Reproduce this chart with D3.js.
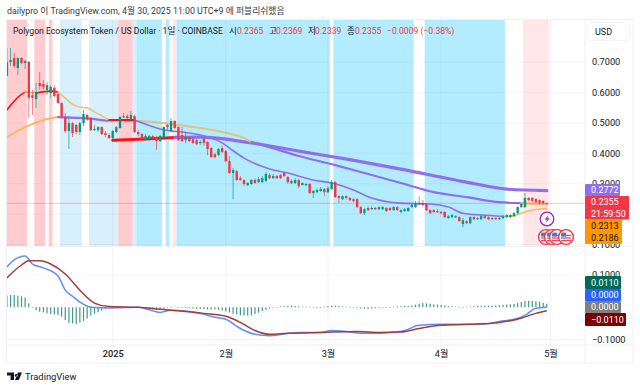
<!DOCTYPE html>
<html>
<head>
<meta charset="utf-8">
<script src="https://cdn.jsdelivr.net/npm/d3@7"></script>
<style>
  html, body { margin: 0; padding: 0; background: #fff; }
  svg { display: block; }
  text { font-family: Roboto, "Noto Sans CJK KR", sans-serif; }
</style>
</head>
<body>
<svg id="chart" width="640" height="389"></svg>
<script>
// Daily candles, one per day from the first date on
const firstDay = new Date(Date.UTC(2024, 11, 3));

const opens = [
  .654,.700,.713,.680,.713,.697,.700,.591,.578,.631,
  .628,.608,.598,.615,.595,.565,.519,.473,.499,.493,
  .470,.499,.526,.516,.476,.476,.486,.466,.460,.450,
  .470,.483,.519,.522,.512,.522,.470,.463,.447,.447,
  .457,.453,.440,.453,.493,.473,.506,.486,.460,.443,
  .453,.447,.443,.434,.447,.437,.417,.397,.394,.417,
  .407,.374,.335,.341,.318,.312,.295,.299,.312,.305,
  .305,.309,.328,.318,.325,.328,.335,.322,.302,.302,
  .312,.295,.295,.299,.269,.272,.276,.282,.272,.282,
  .305,.259,.249,.259,.253,.249,.249,.223,.203,.220,
  .216,.220,.216,.216,.220,.220,.213,.223,.207,.210,
  .210,.223,.223,.233,.236,.233,.213,.213,.210,.207,
  .207,.187,.190,.190,.190,.167,.177,.170,.190,.183,
  .183,.193,.190,.187,.187,.183,.187,.190,.190,.193,
  .203,.223,.223,.253,.253,.249,.246,.243,.2365
];
const highs = [
  .746,.746,.730,.716,.716,.707,.703,.608,.631,.667,
  .641,.634,.624,.624,.598,.568,.532,.522,.503,.496,
  .503,.542,.529,.519,.493,.489,.489,.473,.466,.476,
  .489,.522,.532,.529,.539,.526,.476,.466,.463,.460,
  .460,.457,.460,.489,.496,.516,.509,.489,.486,.470,
  .457,.450,.447,.443,.453,.440,.420,.401,.417,.424,
  .411,.391,.351,.345,.325,.315,.305,.315,.318,.322,
  .325,.338,.335,.332,.328,.332,.338,.325,.315,.318,
  .315,.305,.302,.302,.279,.285,.289,.285,.292,.312,
  .309,.262,.262,.262,.256,.253,.253,.226,.220,.226,
  .226,.223,.226,.226,.223,.223,.226,.226,.216,.220,
  .223,.233,.243,.259,.246,.236,.216,.216,.216,.210,
  .210,.197,.200,.197,.193,.187,.180,.193,.193,.190,
  .197,.197,.193,.190,.190,.190,.197,.200,.200,.207,
  .226,.236,.269,.256,.256,.253,.249,.246,.2369
];
const lows = [
  .654,.687,.680,.657,.693,.677,.516,.526,.549,.608,
  .608,.591,.582,.585,.562,.516,.466,.414,.453,.463,
  .460,.489,.506,.473,.473,.470,.460,.453,.447,.447,
  .466,.480,.516,.512,.509,.466,.457,.440,.443,.443,
  .443,.411,.437,.450,.476,.470,.480,.440,.437,.434,
  .437,.430,.427,.427,.424,.394,.384,.384,.391,.401,
  .371,.332,.249,.309,.309,.292,.292,.295,.299,.302,
  .302,.305,.315,.315,.315,.315,.322,.299,.299,.299,
  .285,.295,.292,.266,.253,.269,.272,.259,.269,.279,
  .253,.236,.246,.249,.243,.239,.220,.200,.197,.210,
  .213,.213,.213,.213,.207,.210,.210,.210,.203,.207,
  .207,.220,.220,.230,.226,.210,.200,.203,.203,.200,
  .187,.183,.187,.187,.174,.157,.167,.167,.180,.180,
  .180,.183,.180,.180,.180,.180,.183,.187,.187,.190,
  .200,.220,.220,.243,.239,.236,.233,.233,.2339
];
const closes = [
  .700,.707,.687,.713,.697,.703,.582,.582,.601,.621,
  .618,.624,.618,.588,.565,.519,.473,.499,.466,.470,
  .499,.529,.512,.476,.480,.486,.463,.460,.450,.473,
  .486,.519,.522,.516,.526,.470,.463,.447,.457,.457,
  .450,.440,.457,.486,.486,.506,.483,.443,.440,.453,
  .440,.434,.430,.437,.434,.414,.387,.387,.414,.404,
  .374,.335,.345,.312,.312,.299,.302,.312,.302,.315,
  .318,.332,.318,.325,.318,.318,.325,.305,.309,.312,
  .292,.302,.299,.269,.276,.279,.282,.272,.285,.305,
  .256,.253,.259,.253,.246,.243,.223,.203,.216,.213,
  .220,.216,.223,.223,.210,.213,.223,.213,.213,.216,
  .220,.230,.236,.236,.230,.213,.203,.207,.207,.203,
  .190,.193,.197,.193,.177,.180,.170,.190,.183,.187,
  .193,.187,.183,.183,.183,.187,.193,.197,.197,.203,
  .223,.233,.253,.246,.243,.239,.236,.236,.2355
];

// Moving averages, read at the day offsets listed beside them
const fastDays = [0,3,5,8,12,14,16,18,20,22,24,28,35,42,45,48,53,59,61,65,69,72,77,84,89,95,100,108,116,121,125,130,136,138,141,144,148];
const fastValues = [.542,.584,.601,.598,.604,.601,.581,.561,.552,.549,.536,.509,.509,.480,.473,.470,.460,.434,.417,.384,.361,.348,.335,.312,.302,.279,.253,.236,.233,.223,.203,.197,.193,.193,.203,.213,.2186];
const midDays = [0,5,10,14,20,28,35,47,53,59,65,67,72,80,90,98,108,117,126,135,141,148];
const midValues = [.453,.486,.509,.519,.516,.506,.506,.493,.483,.470,.450,.437,.420,.391,.361,.335,.302,.272,.256,.239,.236,.2313];
const slowDays = [29,38,46,53,67,80,94,108,126,137,148];
const slowValues = [.443,.447,.452,.453,.434,.407,.379,.348,.305,.282,.2772];

// Which colour each stretch of an average takes: [from, to, colour, width]
const fastColors = [[0,5,"#f4141c",1.6],[5,8,"#f7b35a",1.6],[8,14,"#f4141c",1.8],[14,28,"#f2bd70",1.5],[28,35,"#f4141c",2],[35,136,"#8f6fee",1.6],[136,148,"#f9bb66",1.6]];
const midColors = [[0,14,"#f9b766",2],[14,28,"#8f6fee",2.2],[28,67,"#e4c27c",2],[67,141,"#8f6fee",2.2],[141,148,"#f9bb66",2.4]];
const slowColors = [[29,46,"#f4141c",3],[46,148,"#8f6fee",3.2]];

// MACD pane
const macdDays = [0,2,5,7,10,14,16,18,20,23,28,36,39,42,45,49,54,57,60,64,68,72,76,80,86,89,93,97,101,105,109,113,119,124,130,135,139,142,145,148];
const macdValues = [.125,.147,.159,.134,.122,.097,.053,.034,.016,0,-.002,0,-.008,-.016,-.009,-.012,-.022,-.031,-.037,-.066,-.084,-.088,-.083,-.078,-.078,-.072,-.075,-.081,-.081,-.078,-.072,-.056,-.053,-.053,-.053,-.044,-.037,-.025,-.003,0];
const signalDays = [0,4,6,9,12,16,20,24,28,36,42,49,54,60,64,68,72,77,86,96,102,108,113,119,127,135,140,145,148];
const signalValues = [.091,.131,.144,.144,.134,.103,.053,.013,.002,0,-.006,-.013,-.019,-.028,-.047,-.072,-.084,-.081,-.078,-.075,-.078,-.077,-.066,-.056,-.053,-.047,-.037,-.019,-.011];
const histogram = [
  .036,.038,.038,.036,.034,.030,.012,.001,-.009,-.014,
  -.016,-.019,-.021,-.022,-.024,-.029,-.040,-.049,-.050,-.052,
  -.047,-.042,-.035,-.026,-.020,-.016,-.011,-.006,-.003,-.001,
  .000,.001,.001,.000,.000,.000,-.001,-.002,-.004,-.006,
  -.007,-.008,-.007,-.004,-.001,.002,.002,.001,-.001,-.002,
  -.003,-.004,-.005,-.006,-.006,-.007,-.007,-.007,-.008,-.010,
  -.013,-.016,-.020,-.022,-.025,-.026,-.026,-.025,-.021,-.017,
  -.012,-.008,-.004,-.002,.001,.002,.003,.004,.005,.004,
  .003,.002,.002,.002,.001,.001,.001,.002,.004,.005,
  .005,.004,.003,.002,.001,.000,-.001,-.004,-.005,-.005,
  -.004,-.003,-.002,-.001,.000,.001,.002,.003,.003,.004,
  .004,.006,.008,.011,.013,.012,.011,.009,.008,.007,
  .005,.004,.003,.002,.001,.001,.002,.002,.003,.004,
  .004,.005,.005,.005,.006,.006,.007,.008,.009,.010,
  .013,.016,.019,.020,.020,.019,.017,.014,.011
];

// Background bands: day offsets and kind
const bandFrom = [-1,7.5,11.5,14.5,22.5,30.5,34.5,35.5,43.5,45.5,46.5,89.5,114.5,141.5];
const bandTo = [5.5,10.5,12.5,20.5,30.5,34.5,35.5,42.5,44.5,46.5,88.5,111.5,136.5,148.5];
const bandKind = ["red","red","red","sky","sky","red","sky","cyan","cyan","pale","cyan","cyan","cyan","pale"];
const bandColors = { red: "#ffcdd0", sky: "#d8effc", cyan: "#b3ecff", pale: "#ffe7e9" };

// Axis ticks. 0.2000 sits fully behind the value tags, so it only gets a grid line
const priceGrid = [.7,.6,.5,.4,.3,.2,.1];
const priceTicks = [.7,.6,.5,.4,.3,.1];
const macdTicks = [.1,-.1];
const monthTicks = [
  { date: new Date(Date.UTC(2025, 0, 1)), label: "2025" },
  { date: new Date(Date.UTC(2025, 1, 1)), label: "2월" },
  { date: new Date(Date.UTC(2025, 2, 1)), label: "3월" },
  { date: new Date(Date.UTC(2025, 3, 1)), label: "4월" },
  { date: new Date(Date.UTC(2025, 4, 1)), label: "5월" },
];

// Readout pieces of the legend line
const legendPieces = [
  { x: 13, text: "Polygon Ecosystem Token / US Dollar · 1일 · COINBASE", fill: "#131722" },
  { x: 229, text: "시", fill: "#131722" }, { x: 237, text: "0.2365", fill: "#f23645" },
  { x: 269, text: "고", fill: "#131722" }, { x: 276, text: "0.2369", fill: "#f23645" },
  { x: 308, text: "저", fill: "#131722" }, { x: 315, text: "0.2339", fill: "#f23645" },
  { x: 347, text: "종", fill: "#131722" }, { x: 355, text: "0.2355", fill: "#f23645" },
  { x: 387, text: "−0.0009 (−0.38%)", fill: "#f23645" },
];

// Value tags on the right edge
const priceTags = [
  { top: 184, bottom: 196, right: 620, fill: "#8e6ff0", lines: ["0.2772"], color: "#fff" },
  { top: 196, bottom: 219.5, right: 629, fill: "#f23645", lines: ["0.2355", "21:59:50"], color: "#fff" },
  { top: 219.5, bottom: 244, right: 622, fill: "#ff9800", lines: ["0.2313", "0.2186"], color: "#131722" },
  { top: 276, bottom: 289, right: 621, fill: "#006a57", lines: ["0.0110"], color: "#fff" },
  { top: 289, bottom: 301, right: 621, fill: "#2962ff", lines: ["0.0000"], color: "#fff" },
  { top: 301, bottom: 313, right: 621, fill: "#808080", lines: ["0.0000"], color: "#fff" },
  { top: 313, bottom: 326, right: 626, fill: "#7f0000", lines: ["−0.0110"], color: "#fff" },
];

const plotLeft = 7, plotRight = 585, frameRight = 633;
const mainTop = 20, mainBottom = 246.5, macdBottom = 345, frameBottom = 363;

const svg = d3.select("#chart");
const dayDate = (d) => new Date(firstDay.getTime() + d * 86400000);

const x = d3.scaleUtc()
  .domain([new Date(Date.UTC(2025, 0, 1)), new Date(Date.UTC(2025, 4, 1))])
  .range([112.7, 550.5]);
const xDay = (d) => x(dayDate(d));
const y = d3.scaleLinear().domain([.1, .7]).range([244.5, 62]);
const yMacd = d3.scaleLinear().domain([-.1, .1]).range([339.5, 275]);

const defs = svg.append("defs");
defs.append("clipPath").attr("id", "mainClip").append("rect")
  .attr("x", plotLeft).attr("y", mainTop).attr("width", plotRight - plotLeft).attr("height", mainBottom - mainTop);
defs.append("clipPath").attr("id", "macdClip").append("rect")
  .attr("x", plotLeft).attr("y", mainBottom).attr("width", plotRight - plotLeft).attr("height", macdBottom - mainBottom);

// Title above the frame
svg.append("text").attr("x", 7).attr("y", 14).attr("font-size", 8.8).attr("fill", "#363a45")
  .text("dailypro 이 TradingView.com, 4월 30, 2025 11:00 UTC+9 에 퍼블리쉬했음");

const main = svg.append("g").attr("clip-path", "url(#mainClip)");

// Bands first, everything else sits on top
main.selectAll("rect.band")
  .data(bandFrom)
  .enter()
  .append("rect")
  .attr("class", "band")
  .attr("x", (d) => xDay(d))
  .attr("width", (d, i) => xDay(bandTo[i]) - xDay(d))
  .attr("y", mainTop)
  .attr("height", mainBottom - mainTop)
  .attr("fill", (d, i) => bandColors[bandKind[i]]);

// Faint grid
const gridColor = "rgba(42,46,57,0.05)";
const grid = svg.append("g");
grid.selectAll("line.v")
  .data(monthTicks)
  .enter()
  .append("line")
  .attr("x1", (d) => x(d.date)).attr("x2", (d) => x(d.date))
  .attr("y1", mainTop).attr("y2", macdBottom)
  .attr("stroke", gridColor);
grid.selectAll("line.h")
  .data(priceGrid)
  .enter()
  .append("line")
  .attr("x1", plotLeft).attr("x2", plotRight)
  .attr("y1", (d) => y(d)).attr("y2", (d) => y(d))
  .attr("stroke", gridColor);
grid.selectAll("line.m")
  .data(macdTicks)
  .enter()
  .append("line")
  .attr("x1", plotLeft).attr("x2", plotRight)
  .attr("y1", (d) => yMacd(d)).attr("y2", (d) => yMacd(d))
  .attr("stroke", gridColor);

// Draws one average, stretch by stretch
function drawAverage(days, values, stretches) {
  const points = days.map((d, i) => [d, values[i]]);
  const line = d3.line()
    .x((p) => xDay(p[0]))
    .y((p) => y(p[1]))
    .curve(d3.curveMonotoneX);
  stretches.forEach(([from, to, color, width]) => {
    main.append("path")
      .attr("d", line(points.filter((p) => p[0] >= from && p[0] <= to)))
      .attr("fill", "none")
      .attr("stroke", color)
      .attr("stroke-width", width)
      .attr("stroke-linecap", "round");
  });
}

drawAverage(slowDays, slowValues, slowColors);
drawAverage(midDays, midValues, midColors);
drawAverage(fastDays, fastValues, fastColors);

// Last price line
main.append("line")
  .attr("x1", plotLeft).attr("x2", plotRight)
  .attr("y1", y(closes[closes.length - 1])).attr("y2", y(closes[closes.length - 1]))
  .attr("stroke", "rgba(242,54,69,0.3)");

// Candles
const candleColor = (i) => (closes[i] >= opens[i] ? "#089981" : "#f23645");
const candles = main.selectAll("g.candle")
  .data(opens)
  .enter()
  .append("g")
  .attr("class", "candle");
candles.append("line")
  .attr("x1", (d, i) => xDay(i)).attr("x2", (d, i) => xDay(i))
  .attr("y1", (d, i) => y(highs[i])).attr("y2", (d, i) => y(lows[i]))
  .attr("stroke", (d, i) => candleColor(i))
  .attr("stroke-opacity", 0.75)
  .attr("stroke-width", 0.9);
candles.append("rect")
  .attr("x", (d, i) => xDay(i) - 1.2)
  .attr("width", 2.4)
  .attr("y", (d, i) => y(Math.max(opens[i], closes[i])))
  .attr("height", (d, i) => Math.max(1.2, Math.abs(y(opens[i]) - y(closes[i]))))
  .attr("fill", (d, i) => candleColor(i));

// Event markers near the last candle
const markers = svg.append("g");
markers.append("circle").attr("cx", 547).attr("cy", 219).attr("r", 6.8)
  .attr("fill", "#fff").attr("stroke", "#9c27b0").attr("stroke-width", 1.3);
markers.append("path").attr("d", "M548.8 214.5 L544.6 219.7 L547 219.7 L545.4 223.5 L549.6 218.2 L547.2 218.2 Z")
  .attr("fill", "#9c27b0");
[546, 552, 557, 566].forEach((cx) => {
  const flag = markers.append("g");
  flag.append("circle").attr("cx", cx).attr("cy", 237).attr("r", 7.4)
    .attr("fill", "#fff").attr("stroke", "#f23645").attr("stroke-width", 1.4);
  [234.8, 237.4, 240].forEach((sy) => {
    flag.append("rect").attr("x", cx - 5).attr("y", sy).attr("width", 10).attr("height", 1.3).attr("fill", "#f0475a");
  });
  flag.append("rect").attr("x", cx - 4.8).attr("y", 232.6).attr("width", 5).attr("height", 4).attr("fill", "#4a78c8");
});

// MACD pane
const macdPane = svg.append("g").attr("clip-path", "url(#macdClip)");
macdPane.selectAll("rect.hist")
  .data(histogram)
  .enter()
  .append("rect")
  .attr("class", "hist")
  .attr("x", (d, i) => xDay(i) - 0.6)
  .attr("width", 1.2)
  .attr("y", (d) => Math.min(yMacd(d), yMacd(0)))
  .attr("height", (d) => Math.max(0.6, Math.abs(yMacd(d) - yMacd(0))))
  .attr("fill", "#3f9a86");

const macdLine = d3.line().x((p) => xDay(p[0])).y((p) => yMacd(p[1])).curve(d3.curveMonotoneX);
macdPane.append("path")
  .attr("d", macdLine(macdDays.map((d, i) => [d, macdValues[i]])))
  .attr("fill", "none").attr("stroke", "#5f8ff5").attr("stroke-width", 1.5);
macdPane.append("path")
  .attr("d", macdLine(signalDays.map((d, i) => [d, signalValues[i]])))
  .attr("fill", "none").attr("stroke", "#a33c3c").attr("stroke-width", 1.5);

// Frame and pane dividers
const frameColor = "#eef0f3";
svg.append("rect").attr("x", plotLeft - 0.5).attr("y", mainTop - 0.5)
  .attr("width", frameRight - plotLeft + 0.5).attr("height", frameBottom - mainTop + 0.5)
  .attr("fill", "none").attr("stroke", frameColor);
svg.append("line").attr("x1", plotLeft).attr("x2", frameRight).attr("y1", mainBottom).attr("y2", mainBottom).attr("stroke", frameColor);
svg.append("line").attr("x1", plotLeft).attr("x2", frameRight).attr("y1", macdBottom).attr("y2", macdBottom).attr("stroke", frameColor);
svg.append("line").attr("x1", plotRight).attr("x2", plotRight).attr("y1", mainTop).attr("y2", frameBottom).attr("stroke", frameColor);

// Axes through d3, with the domain and tick marks hidden
function styleAxis(g) {
  g.select(".domain").remove();
  g.selectAll("line").remove();
  g.selectAll("text").attr("font-family", 'Roboto, "Noto Sans CJK KR", sans-serif').attr("font-size", 9.2).attr("fill", "#131722");
}
svg.append("g")
  .attr("transform", `translate(${plotRight},0)`)
  .call(d3.axisRight(y).tickValues(priceTicks).tickFormat(d3.format(".4f")).tickSize(0).tickPadding(7))
  .call(styleAxis);
svg.append("g")
  .attr("transform", `translate(${plotRight},0)`)
  .call(d3.axisRight(yMacd).tickValues(macdTicks).tickFormat((d) => d3.format(".4f")(d).replace("-", "−")).tickSize(0).tickPadding(7))
  .call(styleAxis);
svg.append("g")
  .attr("transform", `translate(0,${macdBottom})`)
  .call(d3.axisBottom(x).tickValues(monthTicks.map((d) => d.date))
    .tickFormat((d, i) => monthTicks[i].label).tickSize(0).tickPadding(5.5))
  .call(styleAxis)
  .call((g) => g.selectAll("text").filter((d, i) => i === 0).attr("font-weight", 500));

// Value tags
priceTags.forEach((tag) => {
  svg.append("rect")
    .attr("x", plotRight).attr("y", tag.top)
    .attr("width", tag.right - plotRight).attr("height", tag.bottom - tag.top)
    .attr("rx", 1).attr("fill", tag.fill);
  const rowH = (tag.bottom - tag.top) / tag.lines.length;
  tag.lines.forEach((t, i) => {
    svg.append("text")
      .attr("x", plotRight + 6).attr("y", tag.top + rowH * (i + 0.5) + 3.2)
      .attr("font-size", 9).attr("fill", tag.color)
      .text(t);
  });
});

// Currency button
svg.append("rect").attr("x", 587.5).attr("y", 22.5).attr("width", 42).attr("height", 18).attr("rx", 4)
  .attr("fill", "#fff").attr("stroke", "#f0f3fa");
svg.append("text").attr("x", 595).attr("y", 34.5).attr("font-size", 9).attr("fill", "#131722").text("USD");

// Legend line
svg.selectAll("text.legend")
  .data(legendPieces)
  .enter()
  .append("text")
  .attr("class", "legend")
  .attr("x", (d) => d.x)
  .attr("y", 33.5)
  .attr("font-size", 8.6)
  .attr("fill", (d) => d.fill)
  .text((d) => d.text);

// TradingView mark and name
svg.append("path")
  .attr("d", "M7 372.5 H14 V380 H10.6 V375.6 H7 Z M16.2 374 a1.5 1.5 0 1 0 0.01 0 Z M15 380 L18 372.5 H22 L18.8 380 Z")
  .attr("fill", "#131722");
svg.append("text").attr("x", 25).attr("y", 380).attr("font-size", 9.4).attr("fill", "#131722").text("TradingView");
</script>
</body>
</html>
